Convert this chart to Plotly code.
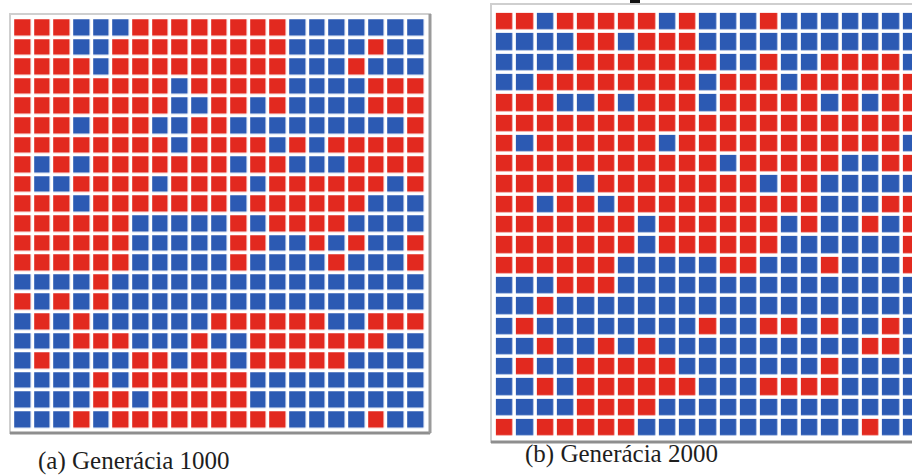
import plotly.graph_objects as go

W, H = 912, 475

# Lattice states after 1000 and 2000 generations (row 1 = top row).
# "R" = red strategy, "B" = blue strategy.
gen_1000 = [
    "RRRBBBRRRRRRRRBBBBBBB",
    "RRRBBRRRRRRRRRBBBBRBB",
    "RRRRBRRRRRRRRRBBBRBBB",
    "RRRRRRRRBRRRRRBBBBRRR",
    "RRRRRRRRBBRRBRBBBBRRR",
    "RRRBRRRBBRRBBBBBBBBBR",
    "RRRRRRRRBRRRRBRBRRRRR",
    "RBRBRRRRRRRBRRBBBRRRR",
    "RBBRRRRBRRRRBRRRRRRBR",
    "RRRBRRRRRRRBRRRRRRBBB",
    "RRRRRRBBBBBRBRRRRBBBB",
    "RRRRRRBBBBBRRBBRBRBBR",
    "RRRRRRBBBBBRBBBBRBBBR",
    "BBBBRBBBBBBBBBBBBBBBB",
    "RBRBRBBBBBBBBBBBBBBBB",
    "BRBRBBBBBBRRRRRRBBRRR",
    "BBBRRRBBBRBBRRRRRRRBB",
    "BRBBBBRRBRRBRRRRRBBBB",
    "BBBBRBRRRRRRBBBBBBBBB",
    "BBBBRRBRRRRRBBBBBBBBB",
    "BBBRBRRRRRRRRRBBBBRBB",
]

gen_2000 = [
    "RRBRRRRRBRBBBRBBBBBBB",
    "BBBBRRBRRRBBBBBBBBBBB",
    "BBBBRRRRRRRBBRBBRRRRB",
    "BBRRRRRRRRBRRRBRRRRRR",
    "RRRBBRBRRRBRRRRRBRBRR",
    "RRRRRRRRRRRRRRRRRRRRR",
    "RBRRRRRRBRRRRRRRRRRRB",
    "RRRRRRRRRRRBRRRRRBBRR",
    "RRRRBRRRRRRRRBRRBBBBB",
    "RRBRRBRRRRRRRRRRBBBRR",
    "RRRRRRRBRRRRRRBRBBRBR",
    "RRRRRRRBRRRRRRBBBBBBR",
    "RRRRRRBBBBBRRBBBRBBBR",
    "BBBRRRBBBBBBBBBBBBBBB",
    "BBRBBBBBBBBBBBBBBBBBB",
    "BRBBBBBBBBRBBRRBRBBRB",
    "BBRBBRBRBBBBBBBBBBRRB",
    "BRBBRRRRRBBBBBBBRBBBB",
    "BBRBRRRRRRBBBRRRRBBBB",
    "BBBBRRRRBBBBBBBBBBBBB",
    "RBRRRRRBBBBBBBBBBBRBB",
]

captions = ["(a) Generácia 1000", "(b) Generácia 2000"]

state_value = {"B": 0, "R": 1}
RED = "#E2291F"
BLUE = "#2C5AB3"


def to_matrix(rows):
    return [[state_value[c] for c in row] for row in rows]


def cells(rows):
    n_rows, n_cols = len(rows), len(rows[0])
    return list(range(1, n_cols + 1)), list(range(1, n_rows + 1))


# Panel geometry in pixels: first cell centre and cell pitch
panels = [
    dict(cx0=23.0, px=19.65, cy0=28.0, py=19.6, frame=(10, 14, 430, 433),
         cap_xy=(134, 461)),
    dict(cx0=505.0, px=20.33, cy0=22.0, py=20.3, frame=(491, 4, 930, 442),
         cap_xy=(621, 454)),
]

fig = go.Figure()
layout_axes = {}
shapes = []
annotations = []

for i, (rows, panel, cap) in enumerate(zip([gen_1000, gen_2000], panels, captions)):
    xs, ys = cells(rows)
    n_cols, n_rows = len(xs), len(ys)
    left = panel["cx0"] - panel["px"] / 2
    right_full = left + n_cols * panel["px"]
    right = min(right_full, W)
    top = panel["cy0"] - panel["py"] / 2
    bottom = top + n_rows * panel["py"]
    x_hi = 0.5 + (right - left) / panel["px"]

    suffix = "" if i == 0 else str(i + 1)
    fig.add_trace(go.Heatmap(
        z=to_matrix(rows), x=xs, y=ys,
        colorscale=[[0, BLUE], [1, RED]], zmin=0, zmax=1,
        showscale=False, xgap=3.6, ygap=3.6, hoverinfo="skip",
        xaxis="x" + suffix, yaxis="y" + suffix,
    ))
    layout_axes["xaxis" + suffix] = dict(
        domain=[left / W, right / W], range=[0.5, x_hi], visible=False,
        fixedrange=True, anchor="y" + suffix)
    layout_axes["yaxis" + suffix] = dict(
        domain=[1 - bottom / H, 1 - top / H], range=[n_rows + 0.5, 0.5],
        visible=False, fixedrange=True, anchor="x" + suffix)

    fx0, fy0, fx1, fy1 = panel["frame"]
    # frame: light top/left edge, darker bottom/right edge
    shapes.append(dict(type="rect", xref="paper", yref="paper", layer="below",
                       x0=fx0 / W, x1=fx1 / W, y0=1 - fy1 / H, y1=1 - fy0 / H,
                       fillcolor="#FFFFFF", line=dict(color="#CFCFCF", width=2)))
    shapes.append(dict(type="line", xref="paper", yref="paper", layer="below",
                       x0=fx0 / W, x1=fx1 / W, y0=1 - fy1 / H, y1=1 - fy1 / H,
                       line=dict(color="#8E8E8E", width=3)))
    shapes.append(dict(type="line", xref="paper", yref="paper", layer="below",
                       x0=fx1 / W, x1=fx1 / W, y0=1 - fy1 / H, y1=1 - fy0 / H,
                       line=dict(color="#9A9A9A", width=3)))

    annotations.append(dict(
        text=cap, xref="paper", yref="paper",
        x=panel["cap_xy"][0] / W, y=1 - panel["cap_xy"][1] / H,
        xanchor="center", yanchor="middle", showarrow=False,
        font=dict(family="Liberation Serif", size=25, color="#1E1E1E")))

# small dark stroke at the top edge above the right panel
shapes.append(dict(type="rect", xref="paper", yref="paper",
                   x0=630 / W, x1=640 / W, y0=1 - 3 / H, y1=1.0,
                   fillcolor="#111111", line=dict(width=0)))

fig.update_layout(
    width=W, height=H, margin=dict(l=0, r=0, t=0, b=0),
    paper_bgcolor="#FFFFFF", plot_bgcolor="rgba(0,0,0,0)",
    showlegend=False, shapes=shapes, annotations=annotations,
    **layout_axes,
)

fig.write_html("out.html")
